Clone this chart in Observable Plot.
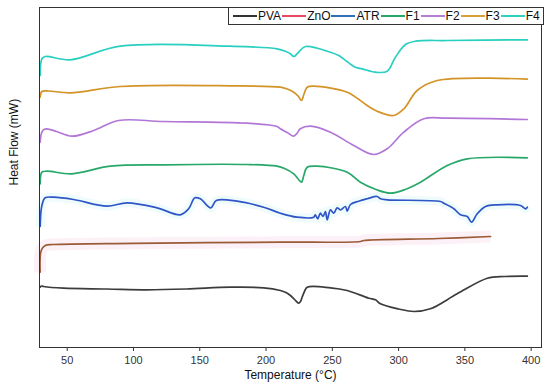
<!DOCTYPE html>
<html><head><meta charset="utf-8">
<script src="https://cdn.jsdelivr.net/npm/d3@7"></script>
<script src="https://cdn.jsdelivr.net/npm/@observablehq/plot@0.6"></script>
<style>
body{margin:0;background:#fff;font-family:"Liberation Sans",Arial,sans-serif;}
#wrap{position:relative;width:550px;height:392px;}
#legend{position:absolute;left:228px;top:7px;height:16px;border:1px solid #333;background:#fff;display:flex;align-items:center;font-size:12px;color:#111;padding:0 3px;white-space:nowrap;}
.sw{width:24px;height:0;border-top:2px solid;margin:0 1px;}
</style></head><body><div id="wrap"><div id="legend"></div></div>
<script>
// Temperature (°C), heat flow (arbitrary, stacked offsets)
const seriesNames = ["PVA","ZnO","ATR","F1","F2","F3","F4"];
const lineColors = ["#3c3c3c","#9b5b36","#2f56c6","#27a869","#b277d6","#d39326","#29cfc1"];
const legendColors = ["#333333","#e84a5f","#2e6fb8","#2aa86a","#b77fd4","#d9a03a","#2fd1c2"];
const xTicks = [50,100,150,200,250,300,350,400];

const pva = [[29.6,60.3],[30.5,61.5],[32.1,61],[47.2,59.3],[80,58.5],[110.2,57.7],[140,58.5],[173.1,60.3],[198.2,59.7],[210.8,57],[215,55],[218.4,52],[221.5,48],[224.6,44.3],[226,46],[227.2,50.3],[229,56],[231,60.3],[248.6,59.7],[261.2,57],[277.5,49.3],[282.5,47.7],[286.3,43.7],[300,38.5],[311.5,36],[324,38.7],[344.2,53.7],[366.9,69.3],[380,71],[397.1,71.3]];
const zno = [[29.6,75.3],[30.4,97],[33.4,102],[39.7,103],[100,104.2],[210.8,105.3],[271.2,106],[273.7,107],[330,109],[369.4,111]];
const atr = [[29.6,121],[30.9,142],[33.4,149.7],[39.7,150.3],[54.8,148],[80,141.3],[95.1,144.7],[117.7,139.7],[135.3,132.7],[141.6,138.7],[146.3,149.7],[150.4,148.7],[158.3,139.7],[162.5,147],[178.1,146.3],[198.2,140.3],[210.8,134.3],[223.4,130.3],[236,130.3],[237.2,132.7],[239,128.7],[241,134.3],[243,131],[244.8,136],[246.1,127.7],[248.6,137.7],[251.1,134.3],[253.6,139.7],[256.1,137.7],[259.9,141],[261.2,136.3],[263.7,143],[269.9,146.3],[276.3,148.7],[283.8,151],[286.3,148.7],[291.4,147.7],[331.6,146],[334.1,144.3],[341.7,138.7],[346.7,132.7],[351.8,131],[355,125.3],[359.3,133.7],[365.6,141],[374.4,142.7],[392,142],[395.8,138.7],[397.1,140.3]];
const f1 = [[29.6,163.7],[30.9,175.3],[34.7,176.3],[53.5,173.7],[82.5,181.3],[122.7,182.7],[185.7,183],[208.3,181.3],[214,179],[220.9,173.7],[224.5,168],[226.7,165.3],[228.5,172],[231,180.3],[238.5,181.3],[261.2,175.3],[271.2,165.3],[283,158],[293.9,154.3],[305,158],[316.5,165.3],[336.7,182],[351.8,188.7],[397.1,189.7]];
const f2 = [[29.6,205.3],[30.5,214],[32.1,217.7],[34.7,218.7],[42,216],[53.5,211.3],[70,217],[88.7,227],[122.7,226],[185.7,224.3],[208.3,221],[210.8,218.7],[216,215],[220.9,211.3],[223.5,214.5],[225.9,218.7],[233.5,221.3],[248.6,215.3],[266.2,202],[281.3,193],[291.4,198.7],[303.9,215.3],[319,228.7],[336.7,229.3],[397.1,228]];
const f3 = [[29.6,250.3],[30.9,256],[36,256.5],[52.3,254.7],[90,261],[173,261.7],[210.8,260.3],[216,258.5],[220.9,255.3],[224.5,251],[226.7,247],[228.8,254],[231,260.3],[236,261.3],[261.2,255.3],[276.3,242],[283.8,236.3],[296.4,232],[304,238.7],[314,257],[329.1,267],[397.1,268.3]];
const f4 = [[29.6,272],[30.9,288.7],[33.4,291],[52.3,287.7],[90,301.3],[173,301.3],[208.3,298.7],[215,296],[218.4,293.7],[220.9,291],[224,294.5],[229.7,301],[248.6,295.3],[254.8,292],[267.4,280.3],[272.5,278.7],[282.5,275.3],[291.4,276.3],[297.6,290.3],[305.2,303],[312.8,306.3],[336.7,307],[397.1,307.7]];

const allSeries = [pva, zno, atr, f1, f2, f3, f4];
const line = (d, stroke, w, cap = "round") => Plot.line(d, {x: d => d[0], y: d => d[1], stroke, strokeWidth: w, strokeLinecap: cap, curve: "catmull-rom"});

const chart = Plot.plot({
  width: 550, height: 392,
  marginLeft: 39, marginRight: 9, marginTop: 7, marginBottom: 45,
  style: {fontFamily: "Liberation Sans, Arial, sans-serif", fontSize: "11px", color: "#333", background: "white"},
  x: {domain: [29.1, 407.8], ticks: xTicks, tickSize: 4, label: null},
  y: {domain: [0, 340], axis: null},
  marks: [
    line(zno, "#fdf1f8", 12, "butt"),
    line(atr, "#f0fcfc", 9, "butt"),
    ...allSeries.map((d, i) => line(d, lineColors[i], 1.7)),
    Plot.frame({stroke: "#333"}),
    Plot.text(["Temperature (°C)"], {frameAnchor: "bottom", dy: 31, fontSize: 12, fill: "#111"}),
    Plot.text(["Heat Flow (mW)"], {frameAnchor: "left", dx: -25, dy: 8, rotate: -90, fontSize: 12, fill: "#111"})
  ]
});
document.getElementById("wrap").prepend(chart);

const lg = document.getElementById("legend");
seriesNames.forEach((n, i) => {
  const s = document.createElement("span"); s.className = "sw"; s.style.borderColor = legendColors[i];
  const t = document.createElement("span"); t.textContent = n;
  lg.append(s, t);
});
</script></body></html>
